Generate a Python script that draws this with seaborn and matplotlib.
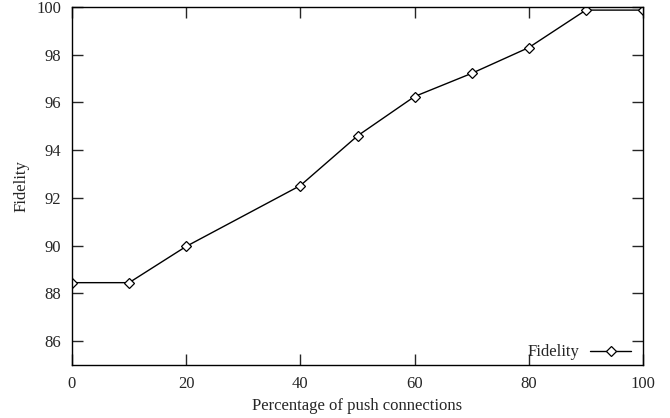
import matplotlib
matplotlib.use("Agg")
import matplotlib.pyplot as plt
import seaborn as sns
import pandas as pd

push_pct = [0, 10, 20, 40, 50, 60, 70, 80, 90, 100]
fidelity = [88.45, 88.45, 89.97, 92.52, 94.6, 96.25, 97.22, 98.3, 99.87, 99.87]

sns.set_style("ticks")
plt.rcParams['font.family'] = ['Liberation Serif', 'DejaVu Serif']
plt.rcParams['font.size'] = 12

df = pd.DataFrame({"x": push_pct, "Fidelity": fidelity})

fig = plt.figure(figsize=(6.7, 4.18), dpi=100)
ax = fig.add_axes([72/670, 1 - 365/418, (643-72)/670, (365-7)/418])
sns.lineplot(data=df, x="x", y="Fidelity", ax=ax, color="black", linewidth=1,
             marker="D", markersize=5.5, markerfacecolor="white",
             markeredgecolor="black", markeredgewidth=0.9, label="Fidelity")
ax.set_xlim(0, 100)
ax.set_ylim(85, 100)
ax.set_xticks([0, 20, 40, 60, 80, 100])
ax.set_yticks([86, 88, 90, 92, 94, 96, 98, 100])
ax.set_xlabel("Percentage of push connections", fontsize=12, labelpad=4)
ax.set_ylabel("Fidelity", fontsize=12, labelpad=5)
ax.tick_params(direction="in", top=True, right=True, length=8, width=1, labelsize=12, pad=8)
for s in ax.spines.values():
    s.set_linewidth(1)
    s.set_color("black")
leg = ax.legend(loc="lower right", frameon=False, markerfirst=False, fontsize=12,
                handlelength=2.5, handletextpad=0.6,
                bbox_to_anchor=(1.0, -0.02), borderaxespad=0.3)
fig.savefig("out.png", dpi=100)
